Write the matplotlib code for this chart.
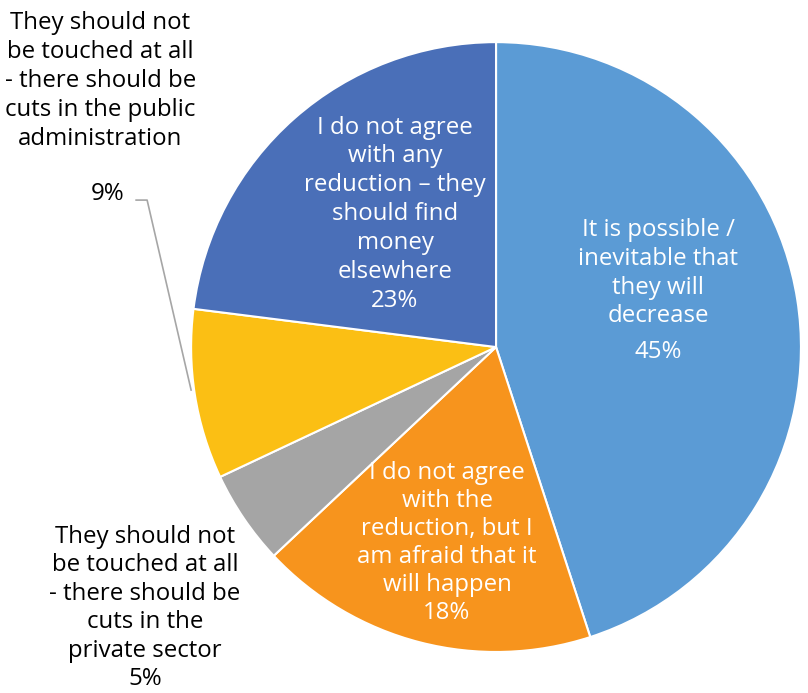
import matplotlib.pyplot as plt

plt.rcParams['font.family'] = ['Open Sans', 'DejaVu Sans']

labels = [
    'It is possible /\ninevitable that\nthey will\ndecrease',
    'I do not agree\nwith the\nreduction, but I\nam afraid that it\nwill happen',
    'They should not\nbe touched at all\n- there should be\ncuts in the\nprivate sector',
    'They should not\nbe touched at all\n- there should be\ncuts in the public\nadministration',
    'I do not agree\nwith any\nreduction \u2013 they\nshould find\nmoney\nelsewhere',
]
values = [45, 18, 5, 9, 23]
colors = ['#5B9BD5', '#F7941D', '#A5A5A5', '#FBBF14', '#4A6FB8']

fig = plt.figure(figsize=(8.08, 6.93), dpi=100)
ax = fig.add_axes([0.2364, 0.0592, 0.755, 0.880])
ax.pie(values, colors=colors, startangle=90, counterclock=False,
       wedgeprops=dict(edgecolor='white', linewidth=1.5))
ax.set_xlim(-1, 1)
ax.set_ylim(-1, 1)
ax.set_aspect('equal')


def px(x, y):
    # pixel position in the image -> data coordinates (center 496,347, r 305)
    return (x - 496) / 305, (347 - y) / 305


fs = 17.3
ls = 1.27
# inside labels (white)
x, y = px(658, 273)
ax.text(x, y, labels[0], color='white', fontsize=fs, ha='center', va='center', linespacing=ls)
x, y = px(658, 352)
ax.text(x, y, '%d%%' % values[0], color='white', fontsize=fs, ha='center', va='center')

x, y = px(395, 214)
ax.text(x, y, labels[4] + '\n%d%%' % values[4], color='white', fontsize=fs,
        ha='center', va='center', linespacing=ls)

x, y = px(447, 543)
ax.text(x, y, labels[1] + '\n%d%%' % values[1], color='white', fontsize=fs,
        ha='center', va='center', linespacing=1.22)

# outside labels (black)
x, y = px(145, 608)
ax.text(x, y, labels[2] + '\n%d%%' % values[2], color='black', fontsize=fs,
        ha='center', va='center', linespacing=1.25, clip_on=False)

x, y = px(100, 81)
ax.text(x, y, labels[3], color='black', fontsize=fs,
        ha='center', va='center', linespacing=ls, clip_on=False)
x, y = px(107, 194)
ax.text(x, y, '%d%%' % values[3], color='black', fontsize=fs,
        ha='center', va='center', clip_on=False)

# leader line for 9%
p1 = px(136, 200)
p2 = px(147, 200)
p3 = px(191, 390)
ax.plot([p1[0], p2[0], p3[0]], [p1[1], p2[1], p3[1]], color='#A6A6A6',
        linewidth=1.2, clip_on=False)

ax.axis('off')
fig.savefig('out.png', dpi=100)
